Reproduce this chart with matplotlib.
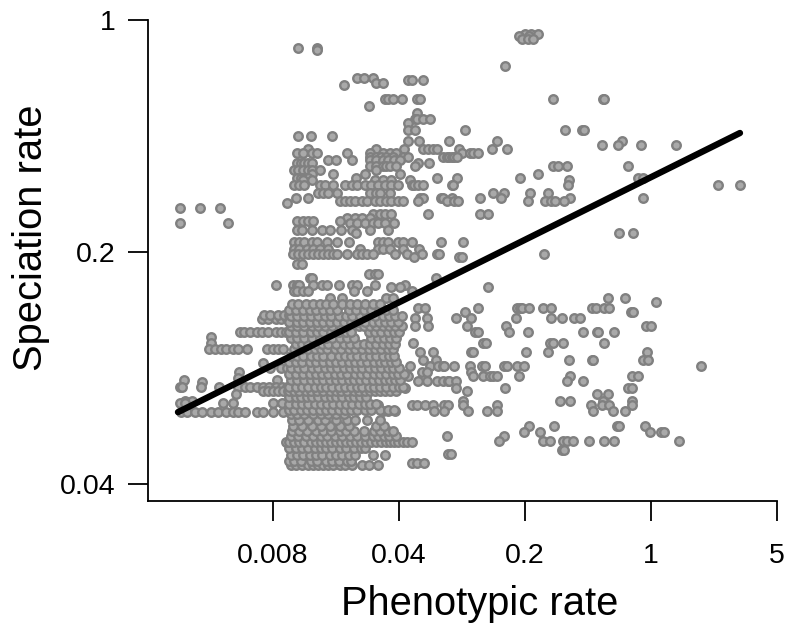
import matplotlib
matplotlib.use("Agg")
import matplotlib.pyplot as plt
import numpy as np

# rates are kept as log base 5 (axis ticks fall on whole powers of 5)
x_ticks = [0.008, 0.04, 0.2, 1, 5]
x_tick_labels = ["0.008", "0.04", "0.2", "1", "5"]
y_ticks = [0.04, 0.2, 1]
y_tick_labels = ["0.04", "0.2", "1"]

fit_phen = [-3.754, 0.706]
fit_spec = [-1.690, -0.487]

# speciation level -> phenotypic rates at that level
spec_levels = [
    -0.06, -0.07, -0.08, -0.12, -0.13, -0.20, -0.25, -0.26, -0.27, -0.28,
    -0.34, -0.37, -0.40, -0.425, -0.445, -0.475, -0.50, -0.52, -0.54, -0.555,
    -0.575, -0.59, -0.605, -0.615, -0.63, -0.645, -0.665, -0.68, -0.69, -0.71,
    -0.745, -0.765, -0.78, -0.79, -0.81, -0.835, -0.855, -0.865, -0.875, -0.905,
    -0.92, -0.955, -0.985, -1.01, -1.02, -1.05, -1.095, -1.11, -1.14, -1.15,
    -1.17, -1.20, -1.215, -1.24, -1.26, -1.285, -1.32, -1.345, -1.39, -1.43,
    -1.465, -1.49, -1.515, -1.535, -1.555, -1.585, -1.60, -1.61, -1.64, -1.66,
    -1.685, -1.75, -1.775, -1.795, -1.815, -1.855, -1.87, -1.91,
]
phen_at_level = [
    [-1.00, -0.95, -0.90],
    [-1.05, -0.97],
    [-1.02, -0.98, -0.94],
    [-2.80, -2.65],
    [-2.65],
    [-1.16],
    [-2.33, -2.28, -2.21],
    [-1.93, -1.90, -1.81],
    [-2.18, -2.13],
    [-2.44],
    [-2.11, -2.09, -2.05, -1.98, -1.86, -1.83, -0.78, -0.38, -0.37],
    [-2.24],
    [-1.86],
    [-1.87, -1.86, -1.81, -1.75],
    [-1.93],
    [-1.93, -1.87, -1.48, -0.68, -0.55, -0.53],
    [-2.80, -2.70, -2.53],
    [-1.93, -1.84, -1.60, -1.22, -0.23],
    [-0.39, -0.26, -0.08, 0.20],
    [-2.72, -2.18, -1.96, -1.81, -1.77, -1.73, -1.70, -1.52, -1.26, -1.14],
    [-2.81, -2.76, -2.69, -2.65, -2.41, -2.23, -2.13, -2.07, -2.02, -1.50, -1.44, -1.41, -1.37],
    [-2.23, -2.18, -2.14, -2.10, -2.05, -1.97, -1.93, -1.65, -1.62, -1.60, -1.58, -1.56, -1.54],
    [-2.56, -2.50, -2.37, -2.23, -2.18, -2.13, -2.09, -2.04, -1.99],
    [-2.81, -2.78, -2.75, -2.72, -2.69, -1.85, -1.76],
    [-2.23, -2.18, -2.13, -2.10, -2.07, -2.02, -1.87, -0.78, -0.74, -0.67, -0.18],
    [-2.83, -2.80, -2.76, -2.72, -2.69, -2.63, -2.18],
    [-2.69, -2.52, -2.27, -1.99, -0.90],
    [-2.81, -2.78, -2.75, -2.72, -2.34, -1.70, -1.54, -1.04, -0.10, -0.06],
    [-2.76, -2.69, -2.19, -2.13, -2.06, -1.91, -0.65],
    [-2.83, -2.79, -2.75, -2.63, -2.59, -2.52, -2.43, -2.37, -2.33, -2.27, -2.22, -2.17, -2.11, -2.06, -2.01,
     -1.90, -1.88, -1.85, -1.81, -1.58, -1.57, -0.66, 0.53, 0.71],
    [-2.64, -2.60, -2.56, -2.49, -2.23, -2.18, -2.15, -2.07, -1.25, -1.17, -0.96, -0.82],
    [-2.82, -2.72, -1.83, -1.81, -1.67, -1.65, -1.58, -1.36, -1.19, -0.64, -0.06],
    [-2.47, -2.43, -2.39, -2.35, -2.29, -2.25, -2.19, -2.15, -2.10, -2.06, -2.01, -1.97, -1.85, -1.62,
     -1.56, -1.53, -0.98, -0.84, -0.79, -0.76, -0.69],
    [-2.89],
    [-3.74, -3.58, -3.42],
    [-2.21, -2.15, -2.11, -2.06, -1.77, -1.36, -1.29],
    [-2.41, -2.35, -2.29, -2.23],
    [-2.81, -2.76, -2.72, -2.68, -2.47],
    [-3.74, -3.36, -2.39, -2.33, -2.27, -2.21, -2.17, -2.11, -2.04],
    [-2.81, -2.77, -2.69, -2.61, -2.55, -2.46, -2.37, -2.23, -2.09],
    [-2.34, -0.25, -0.14],
    [-2.83, -2.79, -2.75, -2.69, -2.65, -2.57, -2.49, -2.40, -2.17, -2.13, -2.09, -2.01, -1.97, -1.90, -1.67, -1.49],
    [-2.83, -2.79, -2.73, -2.68, -2.63, -2.56, -2.31, -2.17, -2.13, -2.07, -1.97, -1.84],
    [-2.84, -2.80, -2.76, -2.72, -2.68, -2.64, -2.60, -2.56, -2.52, -2.49, -2.41, -2.33, -2.29, -2.25,
     -2.21, -2.03, -1.94, -1.82, -1.70, -1.68, -0.85],
    [-1.88, -1.52, -1.50],
    [-2.81, -2.77],
    [-2.24, -2.19, -2.17],
    [-2.71, -2.69, -1.71],
    [-2.98, -2.84, -2.81, -2.79, -2.68, -2.61, -2.57, -2.48, -2.37, -2.33, -2.19, -1.95],
    [-2.06, -1.99, -1.29],
    [-2.83, -2.81, -2.76, -2.72, -2.36, -2.25, -1.90],
    [-2.55, -2.45, -2.10, -2.05, -0.34, -0.21],
    [0.04],
    [-1.85, -1.79, -1.37, -1.06, -1.04, -1.02, -0.97, -0.86, -0.79, -0.47, -0.44, -0.37, -0.33],
    [-1.48, -0.16, -0.14],
    [-1.87, -1.78, -1.55, -1.43, -1.07, -0.79, -0.71, -0.61, -0.56],
    [-1.87, -1.77, -1.46, -1.15, -0.04, 0.00],
    [-1.40, -1.37, -1.13, -0.98, -0.54, -0.43, -0.42, -0.29],
    [-1.89, -1.33, -1.31, -0.80, -0.78, -0.70, -0.37],
    [-1.83, -1.73, -1.43, -1.41, -0.99, -0.82, -0.03],
    [-1.81, -1.71, -0.65, -0.47, -0.46, -0.06, -0.02],
    [-1.91, -1.75, -1.69, -1.65, -1.64, -1.56, -1.44, -1.34, -1.32, -1.17, -1.14, -1.06, -1.01, 0.40],
    [-1.82, -1.78, -1.43],
    [-1.93, -1.41, -1.33, -1.28, -1.25, -1.22, -1.05, -0.64, -0.15, -0.10],
    [-1.85, -1.78, -1.70, -1.65, -1.61, -1.60, -1.55, -0.67, -0.54],
    [-1.95, -1.55, -1.16, -0.18, -0.15],
    [-1.46],
    [-0.43, -0.34],
    [-1.49, -0.72, -0.64, -0.38, -0.15],
    [-2.28, -2.23, -2.17, -1.90, -1.86, -1.79, -1.73, -1.64, -1.61, -1.49, -1.22, -0.48, -0.39, -0.33, -0.15],
    [-2.13, -2.09, -2.03, -1.72, -1.64, -1.45, -1.30, -1.22, -0.46, -0.30, -0.21],
    [-0.97, -0.77, -0.27, -0.25, -0.05],
    [-1.01, -0.88, -0.01, 0.08, 0.10],
    [-1.62, -1.17],
    [-1.21, -0.86, -0.80, -0.70, -0.67, -0.62, -0.49, -0.37, -0.29, 0.22],
    [-0.71, -0.69],
    [-1.61, -1.59],
    [-1.90, -1.86, -1.80],
]

# long tail on the low phenotypic side
tail_levels = [
    -1.29, -1.27, -1.345, -1.365, -1.39, -1.42, -1.48, -1.50, -1.515, -1.545,
    -1.55, -1.56, -1.58, -1.61, -1.64, -1.65, -1.69, -1.60,
]
tail_phen = [
    [-3.09, -3.04, -2.98, -2.94, -2.89, -2.85],
    [-3.07, -3.02, -2.96, -2.91, -2.87],
    [-3.26, -3.23, -3.18, -3.13, -3.09, -3.04, -2.98, -2.94, -2.90, -2.87],
    [-3.49],
    [-3.49],
    [-3.51, -3.46, -3.41, -3.37, -3.32, -3.28, -3.21, -3.05, -3.00, -2.96, -2.92],
    [-3.08],
    [-3.02, -2.94, -2.89],
    [-3.27],
    [-3.28],
    [-3.71, -2.97],
    [-3.56],
    [-3.74, -3.72, -3.57, -3.43, -3.28, -3.22, -3.18, -3.13, -3.08, -3.03, -2.98, -2.93, -2.89],
    [-3.29],
    [-3.70, -3.64],
    [-3.74, -3.70, -3.40, -3.32, -3.00, -2.93],
    [-3.73, -3.68, -3.62, -3.56, -3.49, -3.44, -3.37, -3.32, -3.28, -3.22, -3.13, -3.08, -3.00, -2.92],
    [-3.08, -3.04, -3.00, -2.96, -2.92, -2.88],
]

# the dense block in the middle of the cloud
dense_levels = [
    -1.92, -1.90, -1.875, -1.845, -1.82, -1.795, -1.77, -1.75, -1.725, -1.70,
    -1.68, -1.655, -1.625, -1.60, -1.58, -1.55, -1.525, -1.50, -1.475, -1.45,
    -1.42, -1.395, -1.37, -1.345, -1.32, -1.30, -1.275, -1.25, -1.225,
]
dense_phen = [
    [-2.86, -2.82, -2.77, -2.72, -2.68, -2.64, -2.60, -2.56, -2.52, -2.47, -2.43, -2.37, -2.29, -2.24, -2.17],
    [-2.87, -2.83, -2.78, -2.70, -2.65, -2.58, -2.53, -2.48, -2.41, -2.38],
    [-2.86, -2.81, -2.76, -2.71, -2.66, -2.61, -2.55, -2.50, -2.45, -2.40, -2.35, -2.21, -2.11],
    [-2.87, -2.82, -2.77, -2.72, -2.67, -2.62, -2.58, -2.53, -2.47, -2.42, -2.36, -2.30, -2.27],
    [-2.90, -2.87, -2.83, -2.79, -2.75, -2.70, -2.66, -2.62, -2.58, -2.54, -2.50, -2.46, -2.42, -2.38,
     -2.34, -2.30, -2.26, -2.22, -2.18, -2.14, -2.10, -2.07, -2.04, -2.01, -1.97, -1.94, -1.90],
    [-2.86, -2.80, -2.74, -2.68, -2.62, -2.57, -2.51, -2.45, -2.39, -2.33, -2.27, -2.21, -2.17, -2.12, -2.08, -2.02],
    [-2.85, -2.79, -2.73, -2.66, -2.60, -2.54, -2.47, -2.42, -2.36, -2.28, -2.20, -2.15, -2.09, -2.05],
    [-2.84, -2.77, -2.69, -2.62, -2.55, -2.47, -2.40, -2.18, -2.12],
    [-2.85, -2.79, -2.72, -2.64, -2.59, -2.50, -2.41, -2.35, -2.25, -2.15],
    [-2.86, -2.81, -2.75, -2.68, -2.62, -2.56, -2.50, -2.44],
    [-2.87, -2.83, -2.78, -2.73, -2.68, -2.63, -2.58, -2.53, -2.48, -2.43, -2.38, -2.33, -2.27, -2.22, -2.15, -2.09, -2.04],
    [-2.87, -2.82, -2.77, -2.72, -2.67, -2.62, -2.57, -2.52, -2.47, -2.42, -2.37, -2.32, -2.27, -2.23, -2.18],
    [-2.87, -2.82, -2.78, -2.73, -2.69, -2.64, -2.59, -2.54, -2.50, -2.45, -2.40, -2.36, -2.31, -2.26],
    [-2.87, -2.83, -2.79, -2.74, -2.70, -2.65, -2.60, -2.55, -2.50, -2.46, -2.41, -2.36, -2.32, -2.27, -2.23, -2.19, -2.15, -2.11, -2.07, -2.02],
    [-2.87, -2.82, -2.77, -2.72, -2.67, -2.62, -2.58, -2.53, -2.48, -2.43, -2.38, -2.33, -2.29, -2.24, -2.20, -2.15, -2.10, -2.05, -2.00, -1.97],
    [-2.86, -2.81, -2.75, -2.70, -2.65, -2.60, -2.55, -2.50, -2.45, -2.40, -2.36, -2.31, -2.26, -2.21, -2.16, -2.11, -2.07, -2.03, -1.99],
    [-2.87, -2.82, -2.76, -2.71, -2.66, -2.61, -2.56, -2.51, -2.46, -2.41, -2.35, -2.30, -2.25, -2.20, -2.15, -2.10, -2.05, -2.01, -1.96],
    [-2.86, -2.80, -2.75, -2.69, -2.64, -2.59, -2.54, -2.49, -2.44, -2.39, -2.34, -2.29, -2.24, -2.19, -2.14, -2.09, -2.05, -2.00],
    [-2.87, -2.82, -2.77, -2.71, -2.66, -2.60, -2.55, -2.50, -2.45, -2.40, -2.35, -2.30, -2.25, -2.20, -2.15, -2.11, -2.06, -2.02],
    [-2.86, -2.81, -2.76, -2.70, -2.65, -2.60, -2.54, -2.48, -2.43, -2.38, -2.33, -2.28, -2.23, -2.18, -2.13, -2.08, -2.04],
    [-2.83, -2.78, -2.72, -2.67, -2.62, -2.57, -2.51, -2.46, -2.40, -2.35, -2.29, -2.24, -2.19, -2.14, -2.09, -2.05],
    [-2.82, -2.77, -2.72, -2.66, -2.61, -2.56, -2.50, -2.44, -2.39, -2.33, -2.28, -2.23, -2.18, -2.13, -2.08, -2.03],
    [-2.86, -2.81, -2.75, -2.69, -2.63, -2.58, -2.53, -2.47, -2.41, -2.36, -2.22, -2.17, -2.12, -2.07, -2.02],
    [-2.87, -2.82, -2.76, -2.70, -2.65, -2.60, -2.54, -2.48, -2.42, -2.38, -2.24, -2.19, -2.14, -2.09, -2.04, -2.00],
    [-2.86, -2.81, -2.75, -2.69, -2.64, -2.59, -2.53, -2.47, -2.41, -2.32, -2.28, -2.23, -2.18, -2.13, -2.08, -2.03, -1.98],
    [-2.87, -2.81, -2.76, -2.71, -2.65, -2.60, -2.55, -2.49, -2.44, -2.38, -2.33, -2.27, -2.21, -2.16, -2.11, -2.06, -2.01],
    [-2.86, -2.81, -2.75, -2.70, -2.64, -2.59, -2.54, -2.48, -2.42, -2.37, -2.31, -2.25, -2.19, -2.13, -2.08, -2.03, -1.98],
    [-2.87, -2.82, -2.76, -2.71, -2.66, -2.60, -2.55, -2.49, -2.40, -2.34, -2.28, -2.22, -2.16, -2.10, -2.05],
    [-2.85, -2.80, -2.74, -2.68, -2.63, -2.58, -2.52, -2.45, -2.39, -2.33, -2.27, -2.21, -2.15],
]


def flatten(levels, rows):
    xs = [x for row in rows for x in row]
    ys = [y for y, row in zip(levels, rows) for _ in row]
    return xs, ys


def main() -> None:
    plt.rcParams["font.family"] = ["Liberation Sans", "DejaVu Sans"]

    xs, ys = [], []
    for levels, rows in [(spec_levels, phen_at_level), (tail_levels, tail_phen), (dense_levels, dense_phen)]:
        a, b = flatten(levels, rows)
        xs += a
        ys += b

    fig = plt.figure(figsize=(7.86, 6.24), dpi=100)
    ax = fig.add_axes([148 / 786, 1 - 501 / 624, (777 - 148) / 786, (501 - 20) / 624])
    ax.set_xscale("log", base=5)
    ax.set_yscale("log", base=5)

    ax.scatter(5.0 ** np.array(xs), 5.0 ** np.array(ys), s=38, facecolor="#a9a9a9",
               edgecolor="#808080", linewidth=1.7, zorder=2, clip_on=False)
    ax.plot(5.0 ** np.array(fit_phen), 5.0 ** np.array(fit_spec), color="black", lw=4.6,
            solid_capstyle="round", zorder=3)

    ax.set_xlim(5.0 ** -3.992, 5)
    ax.set_ylim(5.0 ** -2.073, 1)
    ax.set_xticks(x_ticks, x_tick_labels)
    ax.set_yticks(y_ticks, y_tick_labels)
    ax.minorticks_off()
    ax.tick_params(length=14.4, width=1.3, labelsize=20.5, pad=9)
    ax.tick_params(axis="x", pad=16)
    for side in ["top", "right"]:
        ax.spines[side].set_visible(False)
    for side in ["left", "bottom"]:
        ax.spines[side].set_linewidth(1.3)

    fig.text(480 / 786, 1 - 604 / 624, "Phenotypic rate", fontsize=28.7, ha="center", va="center")
    fig.text(31 / 786, 1 - 238 / 624, "Speciation rate", fontsize=28.7, rotation=90, ha="center", va="center")

    fig.savefig("out.png", dpi=100)
    plt.close(fig)


if __name__ == "__main__":
    main()
